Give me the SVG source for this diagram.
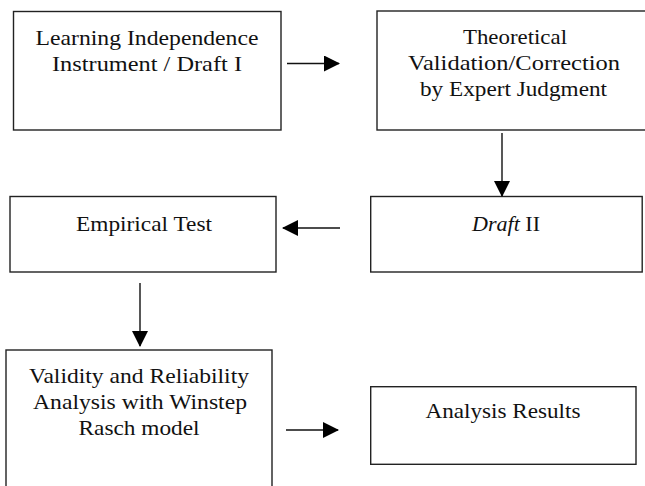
<svg xmlns="http://www.w3.org/2000/svg" width="645" height="486" viewBox="0 0 645 486">
<style>
.box{fill:#fff;stroke:#222;stroke-width:1.4}
.t{font-family:"Liberation Serif","DejaVu Serif",serif;font-size:21px;fill:#111;text-anchor:middle}
.c{stroke:#111;stroke-width:1.4;fill:none;marker-end:url(#ah)}
</style>
<defs>
<marker id="ah" markerUnits="userSpaceOnUse" markerWidth="16" markerHeight="16" viewBox="0 0 16 16" refX="15" refY="8" orient="auto">
<path d="M0,0 L16,8 L0,16 Z" fill="#000"/>
</marker>
</defs>
<rect width="645" height="486" fill="#fff"/>
<g id="n1">
<rect class="box" x="13.5" y="11.5" width="267.5" height="118.5"/>
<text class="t" x="147" y="45" textLength="223" lengthAdjust="spacingAndGlyphs">Learning Independence</text>
<text class="t" x="147" y="71" textLength="190" lengthAdjust="spacingAndGlyphs">Instrument / Draft I</text>
</g>
<g id="n2">
<rect class="box" x="377" y="11" width="272" height="119"/>
<text class="t" x="515" y="44" textLength="104" lengthAdjust="spacingAndGlyphs">Theoretical</text>
<text class="t" x="514" y="70" textLength="212" lengthAdjust="spacingAndGlyphs">Validation/Correction</text>
<text class="t" x="513.5" y="96" textLength="187" lengthAdjust="spacingAndGlyphs">by Expert Judgment</text>
</g>
<g id="n3">
<rect class="box" x="10" y="196.5" width="266" height="75.5"/>
<text class="t" x="144" y="231" textLength="136" lengthAdjust="spacingAndGlyphs">Empirical Test</text>
</g>
<g id="n4">
<rect class="box" x="370.7" y="196.5" width="271.5" height="75.5"/>
<text class="t" x="506" y="231" textLength="68" lengthAdjust="spacingAndGlyphs"><tspan font-style="italic">Draft</tspan> II</text>
</g>
<g id="n5">
<rect class="box" x="6" y="350" width="266" height="150"/>
<text class="t" x="139" y="383" textLength="220" lengthAdjust="spacingAndGlyphs">Validity and Reliability</text>
<text class="t" x="140" y="409" textLength="214" lengthAdjust="spacingAndGlyphs">Analysis with Winstep</text>
<text class="t" x="139" y="435" textLength="121" lengthAdjust="spacingAndGlyphs">Rasch model</text>
</g>
<g id="n6">
<rect class="box" x="370.7" y="386.7" width="265.3" height="77.6"/>
<text class="t" x="503" y="418" textLength="155" lengthAdjust="spacingAndGlyphs">Analysis Results</text>
</g>
<g id="connectors">
<path class="c" d="M287,63.5 L339,63.5"/>
<path class="c" d="M502,133 L502,196"/>
<path class="c" d="M340,228 L283,228"/>
<path class="c" d="M140,283 L140,346"/>
<path class="c" d="M286,430 L338,430"/>
</g>
</svg>
